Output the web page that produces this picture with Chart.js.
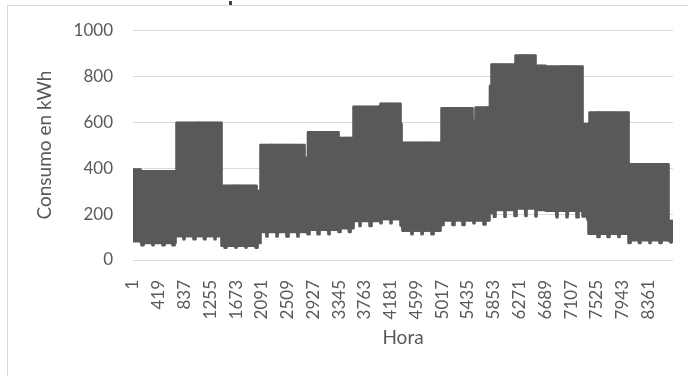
<!DOCTYPE html>
<html>
<head>
<meta charset="utf-8">
<script src="https://cdn.jsdelivr.net/npm/chart.js@4.4.1/dist/chart.umd.min.js"></script>
<style>
  html, body { margin: 0; padding: 0; background: #ffffff; overflow: hidden; }
  #wrap { position: relative; width: 688px; height: 376px; overflow: hidden; }
  #frame { position: absolute; left: 7px; top: 5px; width: 740px; height: 430px; border: 1px solid #d9d9d9; }
  #handle { position: absolute; left: 229px; top: 1px; width: 3px; height: 4px; background: #3f3f3f; }
  canvas { position: absolute; left: 0; top: 0; }
</style>
</head>
<body>
<div id="wrap">
  <div id="frame"></div>
  <div id="handle"></div>
  <canvas id="chart" width="688" height="376"></canvas>
</div>
<script>
// Hour labels shown on the x axis and value ticks on the y axis
const hourTicks = [1, 419, 837, 1255, 1673, 2091, 2509, 2927, 3345, 3763, 4181,
                   4599, 5017, 5435, 5853, 6271, 6689, 7107, 7525, 7943, 8361];
const kwhTicks = [0, 200, 400, 600, 800, 1000];

// Consumption periods over the year: first day of each period,
// daytime peak, night base and the lower weekly night base (kWh)
const periodStartDay = [0,   5,   6,   29,  60,  84,  86,  116, 118, 139, 149, 167, 181,
                        182, 208, 230, 231, 241, 242, 258, 272, 279, 280, 304, 308, 335, 362];
const periodPeak     = [394, 245, 386, 597, 323, 300, 500, 445, 556, 531, 667, 680, 592,
                        510, 660, 605, 663, 757, 851, 890, 845, 750, 842, 592, 642, 416, 170];
const periodBase     = [82,  78,  74,  104, 62,  74,  122, 122, 132, 138, 170, 178, 160,
                        128, 172, 172, 172, 205, 218, 224, 218, 215, 214, 190, 114, 86,  84];
const periodWeekLow  = [66,  78,  64,  90,  54,  64,  102, 108, 112, 122, 148, 160, 150,
                        112, 152, 160, 155, 200, 188, 192, 190, 215, 186, 175, 100, 74,  76];

// Hours of the day running at the daytime peak (1) or at the night base (0)
const dayShape = [0, 0, 0, 0, 0, 0, 0, 1, 1, 1, 1, 1, 1, 1, 1, 1, 1, 1, 1, 0, 0, 0, 0, 0];
const weeklyLowDay = 6;

const points = [];
for (let d = 0; d < 365; d++) {
  let p = 0;
  while (p + 1 < periodStartDay.length && periodStartDay[p + 1] <= d) p++;
  const base = (d % 7 === weeklyLowDay) ? periodWeekLow[p] : periodBase[p];
  for (let h = 0; h < 24; h++) {
    points.push({ x: d * 24 + h + 1, y: dayShape[h] ? periodPeak[p] : base });
  }
}

const textColor = '#595959';
const font = 'Lato';

new Chart(document.getElementById('chart'), {
  type: 'line',
  data: {
    datasets: [{
      data: points,
      borderColor: '#595959',
      borderWidth: 2.6,
      borderJoinStyle: 'round',
      pointRadius: 0,
      tension: 0,
      fill: false
    }]
  },
  options: {
    responsive: false,
    animation: false,
    parsing: false,
    normalized: true,
    events: [],
    layout: { padding: { top: 30, right: 15, bottom: 0, left: 0 } },
    plugins: { legend: { display: false }, tooltip: { enabled: false } },
    scales: {
      x: {
        type: 'linear',
        min: 1,
        max: 8760,
        afterBuildTicks: (axis) => { axis.ticks = hourTicks.map(v => ({ value: v })); },
        afterFit: (axis) => { axis.height = 116; },
        grid: { display: false },
        border: { display: false },
        ticks: {
          autoSkip: false,
          minRotation: 90,
          maxRotation: 90,
          padding: 12,
          color: textColor,
          font: { family: font, size: 17 },
          callback: (v) => String(v)
        },
        title: {
          display: true,
          text: 'Hora',
          color: textColor,
          font: { family: font, size: 19 },
          padding: { top: 0, bottom: 27 }
        }
      },
      y: {
        min: 0,
        max: 1000,
        afterBuildTicks: (axis) => { axis.ticks = kwhTicks.map(v => ({ value: v })); },
        afterFit: (axis) => { axis.width = 133; },
        grid: { color: '#d9d9d9', lineWidth: 1, drawTicks: false },
        border: { display: false },
        ticks: {
          padding: 20,
          color: textColor,
          font: { family: font, size: 17 },
          callback: (v) => String(v)
        },
        title: {
          display: true,
          text: 'Consumo en kWh',
          color: textColor,
          font: { family: font, size: 19 },
          padding: { top: 33, bottom: 0 }
        }
      }
    }
  }
});
</script>
</body>
</html>
